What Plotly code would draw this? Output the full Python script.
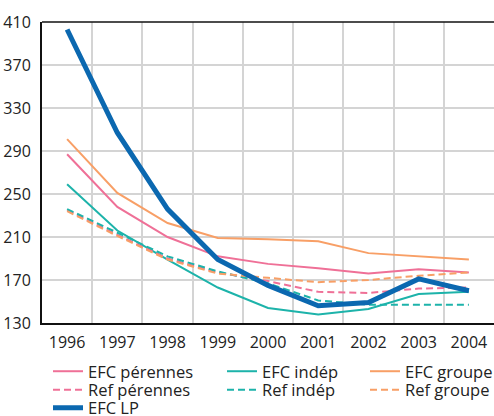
import plotly.graph_objects as go

years = [1996, 1997, 1998, 1999, 2000, 2001, 2002, 2003, 2004]

efc_perennes = [287, 238, 210, 192, 185, 181, 176, 180, 177]
efc_indep = [259, 216, 189, 163, 144, 138, 143, 157, 159]
efc_groupe = [301, 251, 223, 209, 208, 206, 195, 192, 189]
ref_perennes = [235, 212, 190, 177, 169, 159, 158, 162, 163]
ref_indep = [236, 214, 192, 178, 167, 151, 147, 147, 147]
ref_groupe = [234, 211, 189, 176, 172, 168, 170, 174, 177]
efc_lp = [403, 307, 236, 189, 165, 146, 149, 171, 160]

y_ticks = [130, 170, 210, 250, 290, 330, 370, 410]

PINK = "#ef7097"
TEAL = "#1db3aa"
ORANGE = "#f89f66"
BLUE = "#0b68b0"
DASH = "7px,4px"

# name, values, colour, dash, width, legend column, legend row
series = [
    ("EFC pérennes", efc_perennes, PINK, "solid", 2, 0, 0),
    ("EFC indép", efc_indep, TEAL, "solid", 2, 1, 0),
    ("EFC groupe", efc_groupe, ORANGE, "solid", 2, 2, 0),
    ("Ref pérennes", ref_perennes, PINK, DASH, 2, 0, 1),
    ("Ref indép", ref_indep, TEAL, DASH, 2, 1, 1),
    ("Ref groupe", ref_groupe, ORANGE, DASH, 2, 2, 1),
    ("EFC LP", efc_lp, BLUE, "solid", 5, 0, 2),
]

FONT = "'Open Sans', Lato, sans-serif"
COL_X = [48, 222, 365]            # legend column left edges (px)
ROW_Y = [354, 372.5, 390.5]       # legend row top edges (px)
W, H = 494, 416

fig = go.Figure()
legends = {}
for i, (name, vals, color, dash, width, col, row) in enumerate(series):
    key = "legend" if i == 0 else f"legend{i + 1}"
    fig.add_trace(go.Scatter(
        x=years, y=vals, name=name, mode="lines",
        line=dict(color=color, dash=dash, width=width),
        legend=key, showlegend=True,
    ))
    legends[key] = dict(
        xref="container", yref="container",
        x=COL_X[col] / W, y=1 - ROW_Y[row] / H,
        xanchor="left", yanchor="top", visible=True,
        bgcolor="rgba(0,0,0,0)", borderwidth=0,
        font=dict(family=FONT, size=16.5, color="#222222"),
    )

fig.update_layout(
    width=W, height=H, showlegend=True,
    margin=dict(l=42, r=0, t=22, b=93, autoexpand=False),
    paper_bgcolor="white", plot_bgcolor="white",
    font=dict(family=FONT, size=16, color="#222222"),
    xaxis=dict(
        range=[1995.5, 2004.5], tickvals=years, ticktext=[str(y) for y in years],
        showgrid=False, zeroline=False, ticks="", ticklabelstandoff=4,
        showline=True, linecolor="#111111", linewidth=2.3,
        minor=dict(tickvals=[y + 0.5 for y in years[:-1]], showgrid=True,
                   gridcolor="#d4d4d4", gridwidth=1.5, ticks=""),
    ),
    yaxis=dict(
        range=[130, 410], tickvals=y_ticks, showgrid=True,
        gridcolor="#d4d4d4", gridwidth=1.5, zeroline=False, ticks="",
        showline=True, linecolor="#111111", linewidth=2,
        ticklabelstandoff=6,
    ),
    shapes=[dict(type="line", xref="paper", yref="paper", x0=0, x1=1, y0=1, y1=1,
                 line=dict(color="#111111", width=1.3))],
    **legends,
)

fig.write_html("out.html")
